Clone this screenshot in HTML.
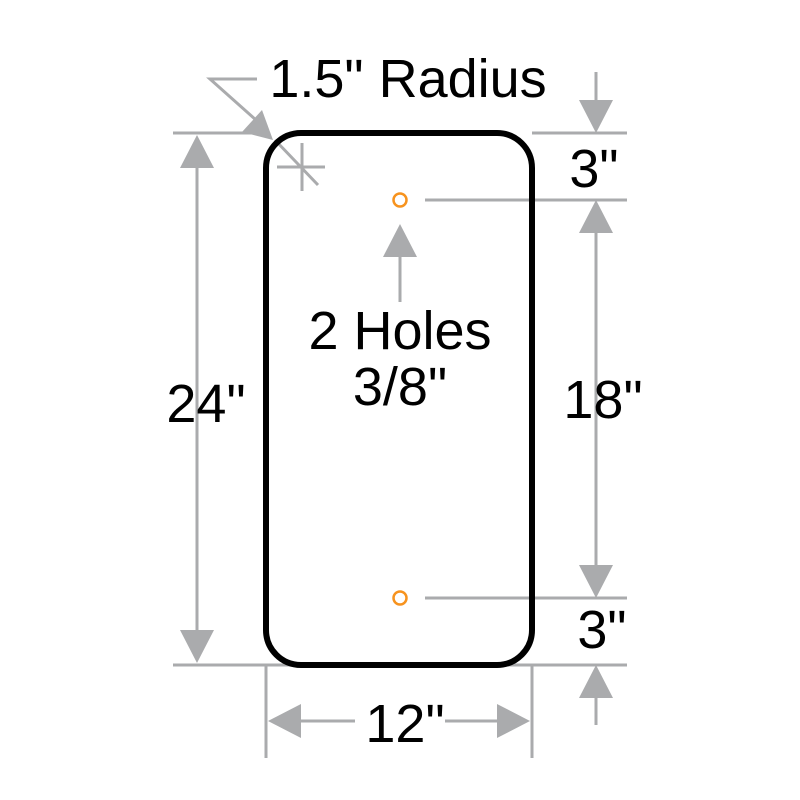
<!DOCTYPE html>
<html><head><meta charset="utf-8"><style>
html,body{margin:0;padding:0;background:#fff;}
svg{display:block;}
text{font-family:"Liberation Sans",Arial,sans-serif;fill:#000;}
</style></head><body>
<svg width="800" height="800" viewBox="0 0 800 800" xmlns="http://www.w3.org/2000/svg">
<g stroke="#aaabad" stroke-width="3" fill="none">
  <line x1="173" y1="133" x2="265" y2="133"/>
  <line x1="532" y1="133" x2="627" y2="133"/>
  <line x1="173" y1="665" x2="627" y2="665"/>
  <line x1="425" y1="200" x2="627" y2="200"/>
  <line x1="425" y1="598" x2="627" y2="598"/>
  <line x1="266" y1="665" x2="266" y2="758"/>
  <line x1="532" y1="665" x2="532" y2="758"/>
  <line x1="197" y1="160" x2="197" y2="640"/>
  <line x1="596" y1="72" x2="596" y2="105"/>
  <line x1="596" y1="228" x2="596" y2="570"/>
  <line x1="596" y1="692" x2="596" y2="725"/>
  <line x1="298" y1="721" x2="355" y2="721"/>
  <line x1="445" y1="721" x2="500" y2="721"/>
  <line x1="400" y1="250" x2="400" y2="302"/>
  <polyline points="257,79 210,79 265,128"/>
  <line x1="275" y1="140" x2="318" y2="185"/>
  <line x1="277" y1="167" x2="325" y2="167"/>
  <line x1="302" y1="143" x2="302" y2="191"/>
</g>
<g fill="#aaabad">
  <polygon points="197,135 180,168 214,168"/>
  <polygon points="197,663 180,630 214,630"/>
  <polygon points="596,133 579,100 613,100"/>
  <polygon points="596,200 579,233 613,233"/>
  <polygon points="596,598 579,565 613,565"/>
  <polygon points="596,665 579,698 613,698"/>
  <polygon points="268,721 301,704 301,738"/>
  <polygon points="530,721 497,704 497,738"/>
  <polygon points="400,224 383,257 417,257"/>
  <polygon points="273,140 242,132 262,110"/>
</g>
<rect x="266" y="133" width="266" height="532" rx="35" ry="35" fill="none" stroke="#000" stroke-width="6"/>
<circle cx="400" cy="200" r="6.5" fill="none" stroke="#f7931e" stroke-width="2.5"/>
<circle cx="400" cy="598" r="6.5" fill="none" stroke="#f7931e" stroke-width="2.5"/>
<g font-size="54" text-anchor="middle">
  <text x="408" y="97">1.5" Radius</text>
  <text x="400" y="349">2 Holes</text>
  <text x="400" y="405">3/8"</text>
  <text x="206" y="422">24"</text>
  <text x="603" y="418">18"</text>
  <text x="405" y="742">12"</text>
  <text x="594" y="187">3"</text>
  <text x="602" y="648">3"</text>
</g>
</svg>
</body></html>
